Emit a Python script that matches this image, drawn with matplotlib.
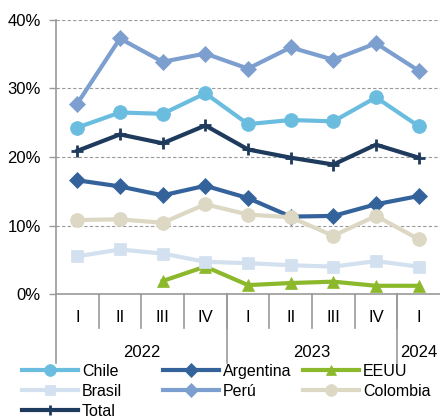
import matplotlib
matplotlib.use("Agg")
import matplotlib.pyplot as plt

plt.rcParams['font.family'] = ['Liberation Sans', 'DejaVu Sans']

quarters = ["I", "II", "III", "IV", "I", "II", "III", "IV", "I"]
years = ["2022", "2023", "2024"]
year_spans = [(0, 4), (4, 8), (8, 9)]

chile = [24.3, 26.5, 26.3, 29.3, 24.8, 25.4, 25.2, 28.7, 24.5]
argentina = [16.6, 15.7, 14.4, 15.8, 14.0, 11.3, 11.4, 13.1, 14.3]
eeuu = [None, None, 1.9, 4.0, 1.3, 1.6, 1.8, 1.2, 1.2]
brasil = [5.5, 6.5, 5.9, 4.7, 4.5, 4.2, 4.0, 4.8, 4.0]
peru = [27.8, 37.3, 33.9, 35.1, 32.9, 36.0, 34.2, 36.6, 32.6]
colombia = [10.8, 10.9, 10.4, 13.1, 11.6, 11.2, 8.5, 11.4, 8.0]
total = [20.9, 23.3, 22.0, 24.6, 21.1, 19.9, 18.9, 21.8, 19.9]

series = [
    ("Chile", chile, "#6BBDE0", "o", 10),
    ("Argentina", argentina, "#34639C", "D", 8),
    ("EEUU", eeuu, "#8CB82B", "^", 9),
    ("Brasil", brasil, "#D3E0EF", "s", 9),
    ("Perú", peru, "#7C9FCF", "D", 8),
    ("Colombia", colombia, "#DCD8C4", "o", 10),
    ("Total", total, "#1E3A5C", "+", 9),
]

fig = plt.figure(figsize=(4.4, 4.16), dpi=100)
ax = fig.add_axes([56 / 440, 1 - 294 / 416, 384 / 440, 274 / 416])

x = list(range(len(quarters)))
handles = {}
for name, vals, color, marker, ms in series:
    xs = [xi for xi, v in zip(x, vals) if v is not None]
    ys = [v for v in vals if v is not None]
    (ln,) = ax.plot(xs, ys, color=color, lw=3, marker=marker, markersize=ms,
                    markeredgewidth=2 if marker == "+" else 0.5,
                    markeredgecolor=color, markerfacecolor=color,
                    solid_joinstyle="miter", label=name, clip_on=False, zorder=3)
    handles[name] = ln

ax.set_xlim(-0.5, len(quarters) - 0.5)
ax.set_ylim(0, 40)
ax.set_yticks([0, 10, 20, 30, 40])
ax.set_yticklabels([f"{v}%" for v in [0, 10, 20, 30, 40]], fontsize=12)
ax.tick_params(axis="y", length=5, width=1, color="#999999", pad=6)
for v in [10, 20, 30, 40]:
    ax.axhline(v, color="#999999", lw=0.8, ls=(0, (3, 2)), zorder=1)

for side in ["top", "right"]:
    ax.spines[side].set_visible(False)
ax.spines["left"].set_color("#999999")
ax.spines["left"].set_linewidth(1.2)
ax.spines["bottom"].set_color("#999999")
ax.spines["bottom"].set_linewidth(1.2)

ax.set_xticks([])
trans = ax.get_xaxis_transform()
# quarter separators and labels
for i in range(1, len(quarters)):
    ax.plot([i - 0.5, i - 0.5], [0, -0.125], transform=trans, color="#999999",
            lw=1.2, clip_on=False)
for i, q in enumerate(quarters):
    ax.text(i, -0.085, q, transform=trans, ha="center", va="center", fontsize=12)
# year separators and labels
for (a, b), yr in zip(year_spans, years):
    ax.plot([a - 0.5, a - 0.5], [0, -0.25], transform=trans, color="#999999",
            lw=1.2, clip_on=False)
    ax.text((a + b - 1) / 2, -0.213, yr, transform=trans, ha="center",
            va="center", fontsize=12)

cols = [["Chile", "Brasil", "Total"], ["Argentina", "Perú"], ["EEUU", "Colombia"]]
col_x = [22, 163, 303]
for names, cx in zip(cols, col_x):
    leg = fig.legend([handles[n] for n in names], names, loc="upper left",
                     bbox_to_anchor=(cx / 440, 1 - 364 / 416), frameon=False,
                     fontsize=11.5, handlelength=3.5, handletextpad=0.25,
                     labelspacing=0.3, borderpad=0, borderaxespad=0,
                     markerscale=0.85)

fig.savefig("out.png", dpi=100)
